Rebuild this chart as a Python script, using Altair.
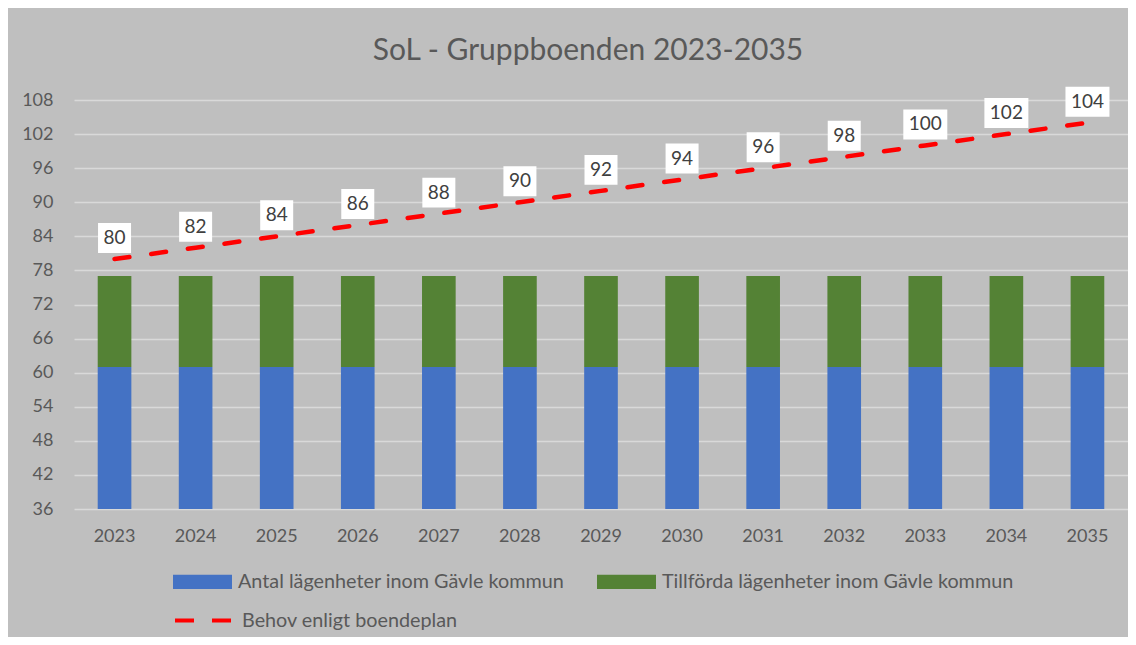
import altair as alt
import pandas as pd

years = ["2023", "2024", "2025", "2026", "2027", "2028", "2029",
         "2030", "2031", "2032", "2033", "2034", "2035"]
antal = [61, 61, 61, 61, 61, 61, 61, 61, 61, 61, 61, 61, 61]
tillforda = [16, 16, 16, 16, 16, 16, 16, 16, 16, 16, 16, 16, 16]
behov = [80, 82, 84, 86, 88, 90, 92, 94, 96, 98, 100, 102, 104]
y_ticks = [36, 42, 48, 54, 60, 66, 72, 78, 84, 90, 96, 102, 108]

serie_antal = "Antal lägenheter inom Gävle kommun"
serie_tillf = "Tillförda lägenheter inom Gävle kommun"
serie_behov = "Behov enligt boendeplan"
titel = "SoL - Gruppboenden 2023-2035"

FONT = "Lato"
TXT = "#595959"

bars_df = pd.DataFrame({
    "år": years + years,
    "serie": [serie_antal] * len(years) + [serie_tillf] * len(years),
    "värde": antal + tillforda,
    "ordning": [0] * len(years) + [1] * len(years),
})
line_df = pd.DataFrame({"år": years, "serie": [serie_behov] * len(years), "behov": behov})

x_axis = alt.Axis(title=None, labelAngle=0, ticks=False, domain=False, grid=False,
                  labelPadding=18, labelFontSize=18, labelColor=TXT, labelFont=FONT)
x_scale = alt.Scale(paddingInner=0.585, paddingOuter=0.2925)
yscale = alt.Scale(domain=[36, 108], nice=False, zero=False)
y_axis = alt.Axis(values=y_ticks, title=None, ticks=False, domain=False,
                  labelOverlap=False, labelPadding=21, labelFontSize=18,
                  labelColor=TXT, labelFont=FONT, gridColor="#D9D9D9", gridWidth=1.5)


def xenc():
    return alt.X("år:N", sort=years, scale=x_scale, axis=x_axis)


bars = alt.Chart(bars_df).mark_bar(clip=True).encode(
    x=xenc(),
    y=alt.Y("värde:Q", stack="zero", scale=yscale, axis=y_axis),
    order=alt.Order("ordning:Q"),
    fill=alt.Fill(
        "serie:N",
        scale=alt.Scale(domain=[serie_antal, serie_tillf], range=["#4472C4", "#548235"]),
        legend=alt.Legend(
            title=None, orient="none", legendX=99, legendY=452,
            direction="horizontal", columns=2, columnPadding=32,
            symbolType="M-1,-0.24H1V0.24H-1Z", symbolSize=3481, symbolStrokeWidth=0,
            symbolOpacity=1, labelFontSize=19.8, labelColor=TXT, labelFont=FONT,
            labelOffset=6, labelLimit=0, padding=0,
        ),
    ),
)

line = alt.Chart(line_df).mark_line(strokeDash=[15, 22], strokeWidth=4.5, strokeCap="round").encode(
    x=xenc(),
    y=alt.Y("behov:Q", scale=yscale, axis=y_axis),
    stroke=alt.Stroke(
        "serie:N",
        scale=alt.Scale(domain=[serie_behov], range=["#FF0000"]),
        legend=alt.Legend(
            title=None, orient="none", legendX=99, legendY=489,
            symbolType="stroke", symbolSize=3481, symbolStrokeWidth=4,
            symbolDash=[19, 18], labelFontSize=19.8, labelColor=TXT, labelFont=FONT,
            labelOffset=6, labelLimit=0, padding=0,
        ),
    ),
)

boxes = alt.Chart(line_df).transform_calculate(
    bredd="datum.behov >= 100 ? 'tre' : 'två'"
).mark_point(filled=True, fill="white", strokeWidth=0, opacity=1, size=1936, yOffset=-21).encode(
    x=xenc(),
    y=alt.Y("behov:Q", scale=yscale, axis=y_axis),
    shape=alt.Shape("bredd:N", scale=alt.Scale(
        domain=["två", "tre"],
        range=["M-0.75,-0.68H0.75V0.68H-0.75Z", "M-1,-0.68H1V0.68H-1Z"]), legend=None),
)

labels = alt.Chart(line_df).mark_text(
    dy=-21, fontSize=19, font=FONT, color="#404040", baseline="middle", align="center"
).encode(
    x=xenc(),
    y=alt.Y("behov:Q", scale=yscale, axis=y_axis),
    text=alt.Text("behov:Q"),
)

chart = alt.layer(bars, line, boxes, labels).properties(
    width=1054, height=409,
    title=alt.TitleParams(titel, fontSize=30, font=FONT, color=TXT, fontWeight="normal",
                          anchor="middle", offset=21, dx=-13),
    autosize=alt.AutoSizeParams(type="none"),
    padding={"left": 66, "top": 92, "right": 0, "bottom": 128},
    background="#BFBFBF",
).configure_view(strokeWidth=0)

chart.save("out.html", embed_options={"renderer": "svg", "actions": False})
